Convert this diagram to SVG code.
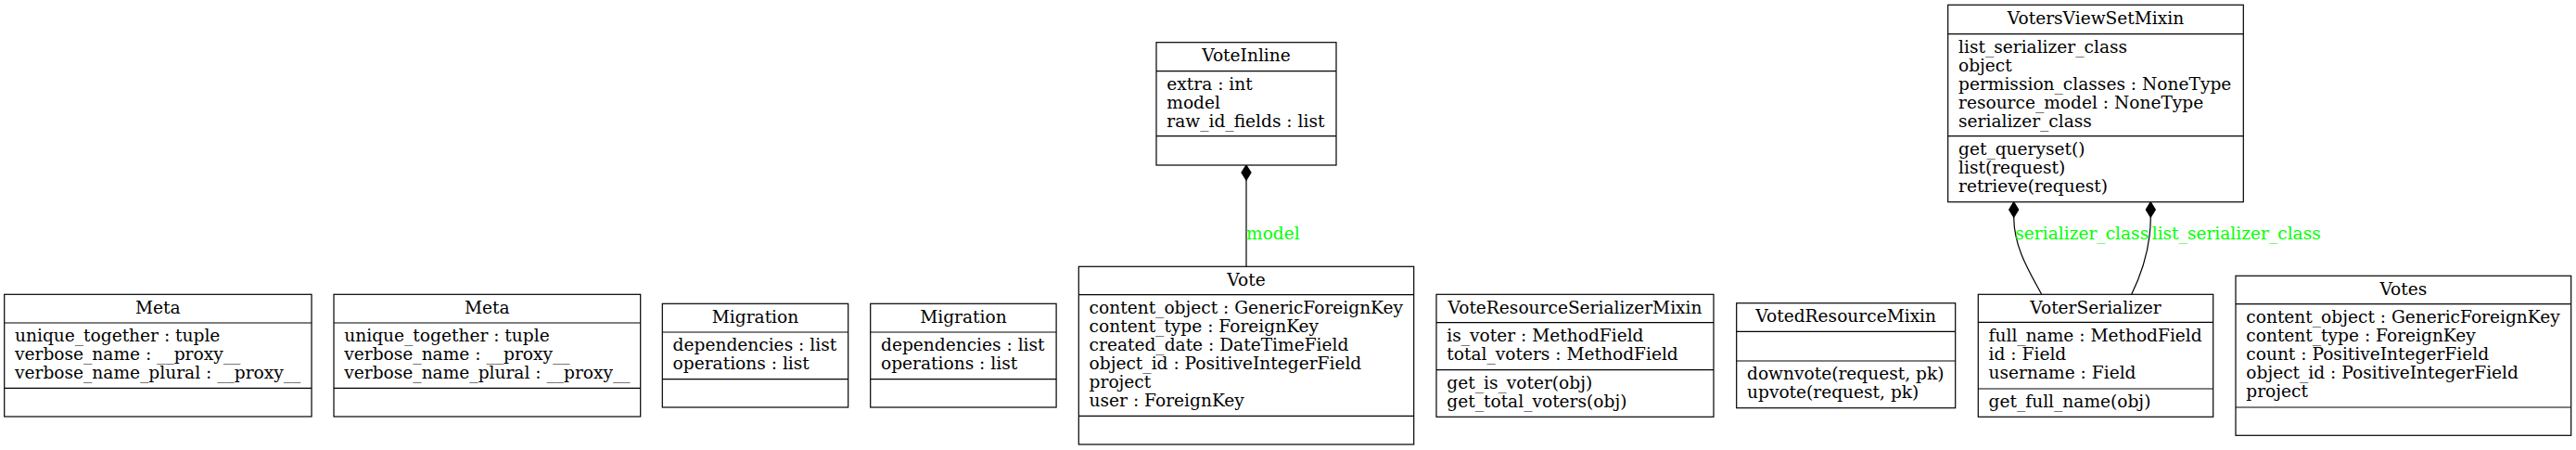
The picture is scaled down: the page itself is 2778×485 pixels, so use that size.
<svg xmlns="http://www.w3.org/2000/svg" width="2778" height="485" viewBox="0 0 2778 485">
<style>
.box{fill:#ffffff;stroke:#000000;stroke-width:1.2}
.sep{stroke:#000000;stroke-width:1.2}
text{font-family:"DejaVu Serif","Liberation Serif",serif;font-size:18.6px;fill:#000000}
.h{text-anchor:middle}
.lbl{fill:#00ff00}
.edge{fill:none;stroke:#000000;stroke-width:1.2}
.dia{fill:#000000;stroke:#000000;stroke-width:1.2}
</style>
<rect x="0" y="0" width="2778" height="485" fill="#ffffff"/>
<g id="connectors">
  <path class="edge" d="M1344,287.3 L1344,194"/>
  <polygon class="dia" points="1344,178 1349,186 1344,194 1339,186"/>
  <text class="lbl" x="1344" y="258.3">model</text>
  <path class="edge" d="M2201.7,317.3 C2188,292 2171.7,266 2171.7,234"/>
  <polygon class="dia" points="2171.7,217.7 2176.7,226 2171.7,234 2166.7,226"/>
  <text class="lbl" x="2173.3" y="258.3">serializer_class</text>
  <path class="edge" d="M2298.7,317.3 C2311,292 2319.3,266 2319.3,234"/>
  <polygon class="dia" points="2319.3,217.7 2324.3,226 2319.3,234 2314.3,226"/>
  <text class="lbl" x="2320.7" y="258.3">list_serializer_class</text>
</g>
<g id="meta1">
  <rect class="box" x="4.7" y="317.3" width="331.3" height="131.7"/>
  <line class="sep" x1="4.7" y1="348" x2="336" y2="348"/>
  <line class="sep" x1="4.7" y1="418.3" x2="336" y2="418.3"/>
  <text class="h" x="170.35" y="337.8">Meta</text>
  <text x="16" y="368.3">unique_together : tuple</text>
  <text x="16" y="388.3">verbose_name : __proxy__</text>
  <text x="16" y="408.3">verbose_name_plural : __proxy__</text>
</g>
<g id="meta2">
  <rect class="box" x="360" y="317.3" width="330.7" height="131.7"/>
  <line class="sep" x1="360" y1="348" x2="690.7" y2="348"/>
  <line class="sep" x1="360" y1="418.3" x2="690.7" y2="418.3"/>
  <text class="h" x="525.35" y="337.8">Meta</text>
  <text x="371.3" y="368.3">unique_together : tuple</text>
  <text x="371.3" y="388.3">verbose_name : __proxy__</text>
  <text x="371.3" y="408.3">verbose_name_plural : __proxy__</text>
</g>
<g id="migration1">
  <rect class="box" x="714.3" y="327.3" width="200.4" height="111.7"/>
  <line class="sep" x1="714.3" y1="358" x2="914.7" y2="358"/>
  <line class="sep" x1="714.3" y1="408.7" x2="914.7" y2="408.7"/>
  <text class="h" x="814.5" y="347.8">Migration</text>
  <text x="725.6" y="378.3">dependencies : list</text>
  <text x="725.6" y="398.3">operations : list</text>
</g>
<g id="migration2">
  <rect class="box" x="938.7" y="327.3" width="200.4" height="111.7"/>
  <line class="sep" x1="938.7" y1="358" x2="1139.1" y2="358"/>
  <line class="sep" x1="938.7" y1="408.7" x2="1139.1" y2="408.7"/>
  <text class="h" x="1038.9" y="347.8">Migration</text>
  <text x="950" y="378.3">dependencies : list</text>
  <text x="950" y="398.3">operations : list</text>
</g>
<g id="vote">
  <rect class="box" x="1163.3" y="287.3" width="361.4" height="191.7"/>
  <line class="sep" x1="1163.3" y1="317.7" x2="1524.7" y2="317.7"/>
  <line class="sep" x1="1163.3" y1="448.3" x2="1524.7" y2="448.3"/>
  <text class="h" x="1344" y="307.8">Vote</text>
  <text x="1174.6" y="338">content_object : GenericForeignKey</text>
  <text x="1174.6" y="358">content_type : ForeignKey</text>
  <text x="1174.6" y="378">created_date : DateTimeField</text>
  <text x="1174.6" y="398">object_id : PositiveIntegerField</text>
  <text x="1174.6" y="418">project</text>
  <text x="1174.6" y="438">user : ForeignKey</text>
</g>
<g id="voteinline">
  <rect class="box" x="1247" y="45.7" width="194" height="132.3"/>
  <line class="sep" x1="1247" y1="76.7" x2="1441" y2="76.7"/>
  <line class="sep" x1="1247" y1="146.7" x2="1441" y2="146.7"/>
  <text class="h" x="1344" y="66.2">VoteInline</text>
  <text x="1258.3" y="97">extra : int</text>
  <text x="1258.3" y="117">model</text>
  <text x="1258.3" y="137">raw_id_fields : list</text>
</g>
<g id="voteresourceserializermixin">
  <rect class="box" x="1549" y="317.3" width="299" height="132"/>
  <line class="sep" x1="1549" y1="347.7" x2="1848" y2="347.7"/>
  <line class="sep" x1="1549" y1="398.7" x2="1848" y2="398.7"/>
  <text class="h" x="1698.5" y="337.8">VoteResourceSerializerMixin</text>
  <text x="1560.3" y="368">is_voter : MethodField</text>
  <text x="1560.3" y="388">total_voters : MethodField</text>
  <text x="1560.3" y="419">get_is_voter(obj)</text>
  <text x="1560.3" y="439">get_total_voters(obj)</text>
</g>
<g id="votedresourcemixin">
  <rect class="box" x="1872.7" y="326.7" width="236" height="113"/>
  <line class="sep" x1="1872.7" y1="357.3" x2="2108.7" y2="357.3"/>
  <line class="sep" x1="1872.7" y1="389" x2="2108.7" y2="389"/>
  <text class="h" x="1990.7" y="347.2">VotedResourceMixin</text>
  <text x="1884" y="409.3">downvote(request, pk)</text>
  <text x="1884" y="429.3">upvote(request, pk)</text>
</g>
<g id="voterserializer">
  <rect class="box" x="2133.3" y="317.3" width="253.4" height="132"/>
  <line class="sep" x1="2133.3" y1="347.3" x2="2386.7" y2="347.3"/>
  <line class="sep" x1="2133.3" y1="419" x2="2386.7" y2="419"/>
  <text class="h" x="2260" y="337.8">VoterSerializer</text>
  <text x="2144.6" y="367.6">full_name : MethodField</text>
  <text x="2144.6" y="387.6">id : Field</text>
  <text x="2144.6" y="407.6">username : Field</text>
  <text x="2144.6" y="439.3">get_full_name(obj)</text>
</g>
<g id="votersviewsetmixin">
  <rect class="box" x="2100.7" y="5.3" width="318.6" height="212.4"/>
  <line class="sep" x1="2100.7" y1="36.7" x2="2419.3" y2="36.7"/>
  <line class="sep" x1="2100.7" y1="146.7" x2="2419.3" y2="146.7"/>
  <text class="h" x="2260" y="25.8">VotersViewSetMixin</text>
  <text x="2112" y="57">list_serializer_class</text>
  <text x="2112" y="77">object</text>
  <text x="2112" y="97">permission_classes : NoneType</text>
  <text x="2112" y="117">resource_model : NoneType</text>
  <text x="2112" y="137">serializer_class</text>
  <text x="2112" y="167">get_queryset()</text>
  <text x="2112" y="187">list(request)</text>
  <text x="2112" y="207">retrieve(request)</text>
</g>
<g id="votes">
  <rect class="box" x="2411" y="297.3" width="361.7" height="172"/>
  <line class="sep" x1="2411" y1="327.7" x2="2772.7" y2="327.7"/>
  <line class="sep" x1="2411" y1="439" x2="2772.7" y2="439"/>
  <text class="h" x="2591.85" y="317.8">Votes</text>
  <text x="2422.3" y="348">content_object : GenericForeignKey</text>
  <text x="2422.3" y="368">content_type : ForeignKey</text>
  <text x="2422.3" y="388">count : PositiveIntegerField</text>
  <text x="2422.3" y="408">object_id : PositiveIntegerField</text>
  <text x="2422.3" y="428">project</text>
</g>
</svg>
